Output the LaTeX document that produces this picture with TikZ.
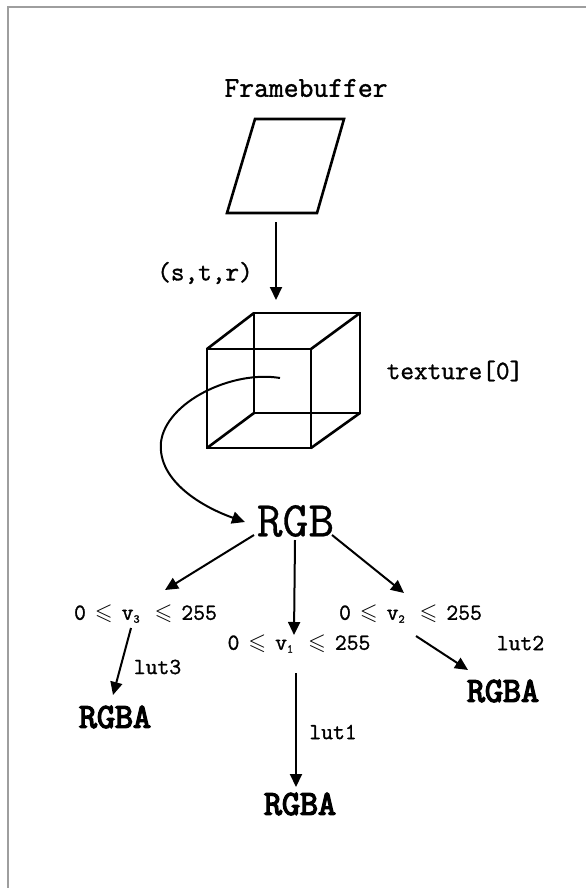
\documentclass[tikz,border=0pt]{standalone}
\usepackage{amssymb}
\usepackage{fontspec}
\setmonofont{Latin Modern Mono}[RawFeature={embolden=1.3}]
\newfontfamily\rgbafont{Latin Modern Mono}[RawFeature={embolden=4}]
\newfontfamily\rgbfont{Latin Modern Mono}[RawFeature={embolden=0.6}]
\usetikzlibrary{arrows.meta,positioning,calc}
\tikzset{
  fl/.style={-{Triangle[length=13pt,width=12pt]}, line width=2pt},
  shp/.style={line width=2.6pt, line join=miter},
  ttl/.style={font=\fontsize{28.8}{32}\selectfont\ttfamily, inner sep=0pt},
  lbl/.style={font=\fontsize{26.5}{30}\selectfont\ttfamily, inner sep=0pt},
  rng/.style={font=\fontsize{23}{27}\selectfont\ttfamily, inner sep=0pt},
  big/.style={font=\fontsize{50}{56}\selectfont\rgbfont, inner sep=0pt},
  rgba/.style={font=\fontsize{35}{40}\selectfont\rgbafont, inner sep=0pt},
  rim/.style={draw=black!38, line width=1.5pt},
}
\newcommand{\lsl}{\makebox[0.525em]{$\leqslant$}}
\newcommand{\vsub}[1]{v\makebox[0.525em][l]{\raisebox{-0.3ex}{\fontsize{12}{12}\selectfont#1}}}

\begin{document}
\begin{tikzpicture}[x=1pt,y=-1pt]
\useasboundingbox (0,0) rectangle (586,888);
\draw[rim] (8,888) -- (8,7) -- (586,7);
% framebuffer and lookup
\node[ttl] (fbl) at (306,88) {Framebuffer};
\draw[shp] (255,119) -- (344,119) -- (317,213) -- (227,213) -- cycle;
\coordinate (fbo) at (276,222);
\coordinate (cbi) at (276,300);
\draw[fl] (fbo) -- (cbi);
\node[lbl] (str) at (205,273) {(s,t,r)};
% cube map
\draw[shp] (254,313) rectangle (360,413);
\draw[shp] (207,349) rectangle (311,448);
\draw[shp] (207,349) -- (254,313) (311,349) -- (360,313)
           (311,448) -- (360,413) (207,448) -- (254,413);
\node[lbl] (tex) at (455,371) {texture[0]};
\coordinate (tc) at (280,378);
\node[big] (rgb) at (295.5,521) {RGB};
\draw[fl] (tc) .. controls (232,370) and (166,402) .. (161,442)
          .. controls (157,482) and (205,508) .. ($(rgb)+(-50.5,1)$);
% ranges
\node[rng] (v3) at (145.5,614) {0 \lsl{} \vsub{3} \lsl{} 255};
\node[rng] (v1) at (299,644) {0 \lsl{} \vsub{1} \lsl{} 255};
\node[rng] (v2) at (410.5,614) {0 \lsl{} \vsub{2} \lsl{} 255};
\draw[fl] ($(rgb)+(-41.5,14)$) -- ($(v3)+(19.5,-24)$);
\draw[fl] ($(rgb)+(-0.5,19)$) -- ($(v1)+(-5,-9)$);
\draw[fl] ($(rgb)+(36.5,14)$) -- ($(v2)+(-6.5,-21)$);
% lookup tables
\node[rgba] (o3) at (115,717) {RGBA};
\node[rgba] (o1) at (300,804) {RGBA};
\node[rgba] (o2) at (503,691) {RGBA};
\draw[fl] ($(v3)+(-14.5,14)$) -- ($(o3)+(-2,-22)$);
\draw[fl] ($(v1)+(-3,29)$) -- ($(o1)+(-4,-17)$);
\draw[fl] ($(v2)+(5.5,22)$) -- ($(o2)+(-35,-21)$);
\node[rng] (l3) at (157.5,667) {lut3};
\node[rng] (l1) at (333,732) {lut1};
\node[rng] (l2) at (520.5,643) {lut2};
\end{tikzpicture}
\end{document}
